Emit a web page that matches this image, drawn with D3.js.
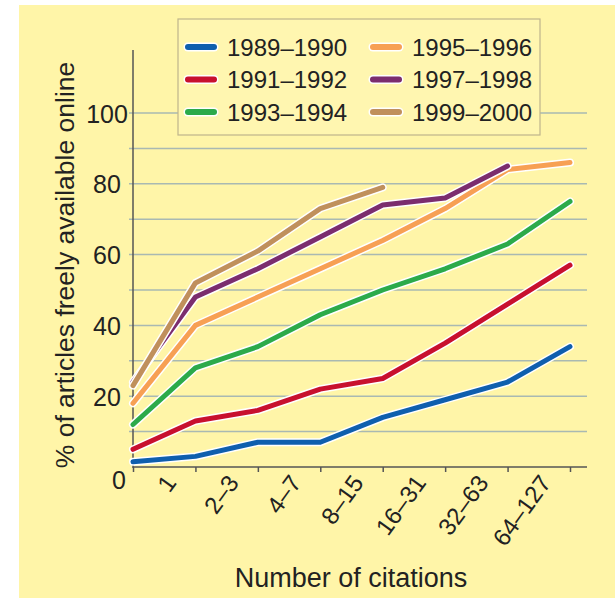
<!DOCTYPE html>
<html><head><meta charset="utf-8">
<script src="https://cdn.jsdelivr.net/npm/d3@7"></script>
<style>body{margin:0;background:#fff}svg{display:block}text{font-family:"Liberation Sans",Arial,sans-serif;fill:#222}</style>
</head><body><svg id="c" width="615" height="599"></svg>
<script>
const categories = ["0","1","2–3","4–7","8–15","16–31","32–63","64–127"];
const seriesNames = ["1989–1990","1991–1992","1993–1994","1995–1996","1997–1998","1999–2000"];
const s1989 = [1.5, 3, 7, 7, 14, 19, 24, 34];
const s1991 = [5, 13, 16, 22, 25, 35, 46, 57];
const s1993 = [12, 28, 34, 43, 50, 56, 63, 75];
const s1995 = [18, 40, 48, 56, 64, 73, 84, 86];
const s1997 = [24, 48, 56, 65, 74, 76, 85];
const s1999 = [23, 52, 61, 73, 79];
const yTicks = [20, 40, 60, 80, 100];
const yGrid = [10, 20, 30, 40, 50, 60, 70, 80, 90, 100];
const colors = ["#0f5fae", "#c8102e", "#2caa4a", "#f7a054", "#7b2d6e", "#c0905c"];
const seriesValues = [s1989, s1991, s1993, s1995, s1997, s1999];

const svg = d3.select("#c");
svg.append("rect").attr("x",19).attr("y",5).attr("width",596).attr("height",593).attr("fill","#fff5a8");

const x = d3.scalePoint().domain(categories).range([133, 570]);
const y = d3.scaleLinear().domain([0, 100]).range([467, 113]);

// gridlines
svg.append("g").selectAll("line").data(yGrid).join("line")
  .attr("x1",129).attr("x2",587).attr("y1",d=>y(d)).attr("y2",d=>y(d))
  .attr("stroke","#a9b9b2").attr("stroke-width",1.5);

// y axis
const yAxis = svg.append("g").attr("transform","translate(133,0)")
  .call(d3.axisLeft(y).tickValues(yTicks).tickSize(0).tickFormat(d3.format("d")));
yAxis.select(".domain").remove();
yAxis.selectAll("text").attr("x",-26).attr("text-anchor","middle").attr("dy","0.36em")
  .style("font-size","25px").style("font-family","'Liberation Sans',Arial,sans-serif").attr("fill","#222");
svg.append("line").attr("x1",133).attr("x2",133).attr("y1",50).attr("y2",468).attr("stroke","#555").attr("stroke-width",1.5);

// x axis
const xAxis = svg.append("g").attr("transform","translate(0,467)")
  .call(d3.axisBottom(x).tickSize(5).tickFormat(""));
xAxis.select(".domain").remove();
xAxis.selectAll("line").attr("stroke","#555").attr("stroke-width",1.5);
svg.append("line").attr("x1",133).attr("x2",587).attr("y1",467).attr("y2",467).attr("stroke","#555").attr("stroke-width",1.5);

svg.append("g").selectAll("text").data(categories.slice(1)).join("text")
  .attr("transform",d=>`translate(${x(d)-18},483) rotate(-54)`)
  .attr("text-anchor","end").style("font-size","24px").text(d=>d);
svg.append("text").attr("x",119).attr("y",489).attr("text-anchor","middle").style("font-size","25px").text(categories[0]);

// titles
svg.append("text").attr("x",351).attr("y",587).attr("text-anchor","middle").style("font-size","27px").text("Number of citations");
svg.append("text").attr("transform","translate(74,265) rotate(-90)").attr("text-anchor","middle").style("font-size","26.5px").text("% of articles freely available online");

// lines
const line = d3.line().x((d,i)=>x(categories[i])).y(d=>y(d));
seriesValues.forEach((vals,k)=>{
  svg.append("path").datum(vals).attr("d",line).attr("fill","none").attr("stroke","#fff")
    .attr("stroke-width",8).attr("stroke-linejoin","round").attr("stroke-linecap","round");
  svg.append("path").datum(vals).attr("d",line).attr("fill","none").attr("stroke",colors[k])
    .attr("stroke-width",5).attr("stroke-linejoin","round").attr("stroke-linecap","round");
});

// legend
svg.append("rect").attr("x",178).attr("y",19).attr("width",362).attr("height",116)
  .attr("fill","#fff6b0").attr("stroke","#bfb58c").attr("stroke-width",1.2);
const lg = svg.append("g").selectAll("g").data(seriesNames).join("g")
  .attr("transform",(d,i)=>`translate(${i<3?188:373},${47+ (i%3)*32.5})`);
lg.append("line").attr("x1",0).attr("x2",26).attr("stroke","#fff").attr("stroke-width",9).attr("stroke-linecap","round");
lg.append("line").attr("x1",0).attr("x2",26).attr("stroke",(d,i)=>colors[i]).attr("stroke-width",6).attr("stroke-linecap","round");
lg.append("text").attr("x",39).attr("dy","0.36em").style("font-size","24px").text(d=>d);
</script></body></html>
